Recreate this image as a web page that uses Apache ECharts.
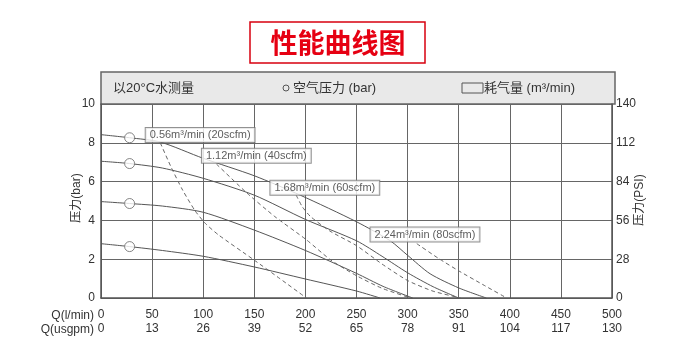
<!DOCTYPE html>
<html>
<head>
<meta charset="utf-8">
<script src="https://cdn.jsdelivr.net/npm/echarts@6.0.0/dist/echarts.min.js"></script>
<style>
  body { margin: 0; background: #fff; }
  #main { width: 680px; height: 353px; }
</style>
</head>
<body>
<div id="main"></div>
<script>
// tick labels
const lpmTicks = [0, 50, 100, 150, 200, 250, 300, 350, 400, 450, 500]
const usgpmTicks = [0, 13, 26, 39, 52, 65, 78, 91, 104, 117, 130]

// pressure curves [Q l/min, bar]
const curve84 = [[0, 8.42], [28, 8.26], [58, 8.04], [100, 7.2], [150, 6.3], [195, 5.3], [250, 3.93], [283, 2.95], [300, 2.2], [322, 1.25], [350, 0.52], [377, 0]]
const curve70 = [[0, 7.05], [28, 6.93], [60, 6.7], [100, 6.17], [150, 5.3], [200, 4.05], [250, 2.95], [275, 2.15], [300, 1.3], [325, 0.58], [350, 0]]
const curve50 = [[0, 4.97], [28, 4.87], [60, 4.74], [100, 4.42], [150, 3.5], [200, 2.45], [250, 1.27], [276, 0.6], [305, 0]]
const curve28 = [[0, 2.8], [28, 2.65], [60, 2.45], [100, 2.15], [150, 1.6], [200, 0.98], [250, 0.36], [273, 0]]

// air consumption lines
const air20 = [[58, 8.0], [69, 6.7], [80, 5.55], [92, 4.5], [102, 3.85], [115, 3.25], [150, 1.95], [175, 1.0], [201, 0]]
const air40 = [[113, 6.9], [143, 5.4], [170, 4.2], [201, 3.0], [225, 1.95], [250, 1.15], [275, 0.5], [303, 0]]
const air60 = [[191, 5.3], [197, 4.7], [205, 4.2], [224, 3.45], [250, 2.7], [275, 1.75], [300, 0.9], [325, 0.35], [352, 0]]
const air80 = [[309, 2.8], [330, 2.05], [350, 1.4], [375, 0.65], [397, 0]]

// air pressure markers
const markX = [28, 28, 28, 28]
const markY = [8.26, 6.93, 4.87, 2.65]

// consumption labels
const airText = ['0.56m³/min (20scfm)', '1.12m³/min (40scfm)', '1.68m³/min (60scfm)', '2.24m³/min (80scfm)']
const airLabelX = [97, 152, 219, 317]
const airLabelY = [8.4, 7.33, 5.68, 3.27]

const font = "'Liberation Sans', 'Noto Sans CJK SC', sans-serif"

let chart = echarts.init(document.getElementById('main'))

function solid (data) {
  return {
    type: 'line', data: data, smooth: 0.25, symbol: 'none', z: 3,
    lineStyle: {color: '#555', width: 1}
  }
}
function dashed (data) {
  return {
    type: 'line', data: data, smooth: 0.2, symbol: 'none', z: 3,
    lineStyle: {color: '#666', width: 1, type: [4, 3]}
  }
}

let option = {
  animation: false,
  backgroundColor: '#fff',
  textStyle: {fontFamily: font},
  grid: {left: 101, right: 68, top: 104, bottom: 55},
  xAxis: {
    type: 'value', min: 0, max: 500, interval: 50,
    axisLine: {show: true, lineStyle: {color: '#555', width: 1.5}},
    axisTick: {show: false},
    splitLine: {show: true, lineStyle: {color: '#666', width: 1}},
    axisLabel: {
      margin: 10,
      formatter: function (v) {
        let i = lpmTicks.indexOf(v)
        return '{a|' + lpmTicks[i] + '}\n{a|' + usgpmTicks[i] + '}'
      },
      rich: {a: {fontSize: 12, lineHeight: 14, color: '#333', fontFamily: font}}
    }
  },
  yAxis: [{
    type: 'value', min: 0, max: 10, interval: 2,
    axisLine: {show: true, lineStyle: {color: '#555', width: 1.5}},
    axisTick: {show: false},
    splitLine: {show: true, lineStyle: {color: '#666', width: 1}},
    axisLabel: {fontSize: 12, color: '#333', margin: 6}
  }, {
    type: 'value', min: 0, max: 140, interval: 28, position: 'right',
    axisLine: {show: true, lineStyle: {color: '#555', width: 1.5}},
    axisTick: {show: false},
    splitLine: {show: false},
    axisLabel: {fontSize: 12, color: '#333', margin: 4}
  }],
  series: [
    solid(curve84), solid(curve70), solid(curve50), solid(curve28),
    dashed(air20), dashed(air40), dashed(air60), dashed(air80),
    {
      type: 'scatter', z: 4,
      data: markX.map((x, i) => [x, markY[i]]),
      symbol: 'circle', symbolSize: 10,
      itemStyle: {color: '#fff', borderColor: '#666', borderWidth: 1}
    },
    {
      type: 'scatter', z: 5,
      data: airLabelX.map((x, i) => ({value: [x, airLabelY[i]], name: airText[i]})),
      symbol: 'rect', symbolSize: 1,
      itemStyle: {color: 'rgba(0,0,0,0)'},
      label: {
        show: true, position: 'inside', formatter: '{b}',
        fontSize: 11, color: '#333', fontFamily: font,
        backgroundColor: '#fff', borderColor: '#777', borderWidth: 1,
        padding: [2, 4, 1, 4]
      }
    }
  ],
  graphic: [
    // title
    {type: 'rect', shape: {x: 250, y: 22, width: 175, height: 41}, style: {fill: 'none', stroke: '#d7000f', lineWidth: 1.5}},
    {type: 'text', x: 338, y: 43, style: {text: '性能曲线图', fill: '#e60012', font: "bold 27px 'Noto Sans CJK SC'", textAlign: 'center', textVerticalAlign: 'middle'}},
    // header band
    {type: 'rect', shape: {x: 101, y: 72, width: 514, height: 32}, style: {fill: '#e9e9e9', stroke: '#666', lineWidth: 1.5}},
    {type: 'text', x: 113, y: 88, style: {text: '以20°C水测量', fill: '#333', font: '13px ' + font, textVerticalAlign: 'middle'}},
    {type: 'circle', shape: {cx: 286, cy: 88, r: 3}, style: {fill: 'none', stroke: '#555', lineWidth: 1}},
    {type: 'text', x: 293, y: 88, style: {text: '空气压力 (bar)', fill: '#333', font: '13px ' + font, textVerticalAlign: 'middle'}},
    {type: 'rect', shape: {x: 462, y: 83, width: 21, height: 10}, style: {fill: 'none', stroke: '#555', lineWidth: 1}},
    {type: 'text', x: 484, y: 88, style: {text: '耗气量 (m³/min)', fill: '#333', font: '13px ' + font, textVerticalAlign: 'middle'}},
    // axis names
    {type: 'text', x: 77, y: 198, rotation: Math.PI / 2, style: {text: '压力(bar)', fill: '#333', font: '12px ' + font, textAlign: 'center', textVerticalAlign: 'middle'}},
    {type: 'text', x: 640, y: 200, rotation: Math.PI / 2, style: {text: '压力(PSI)', fill: '#333', font: '12px ' + font, textAlign: 'center', textVerticalAlign: 'middle'}},
    {type: 'text', x: 94, y: 316, style: {text: 'Q(l/min)', fill: '#333', font: '12px ' + font, textAlign: 'right', textVerticalAlign: 'middle'}},
    {type: 'text', x: 94, y: 330, style: {text: 'Q(usgpm)', fill: '#333', font: '12px ' + font, textAlign: 'right', textVerticalAlign: 'middle'}}
  ]
}
chart.setOption(option)
</script>
</body>
</html>
